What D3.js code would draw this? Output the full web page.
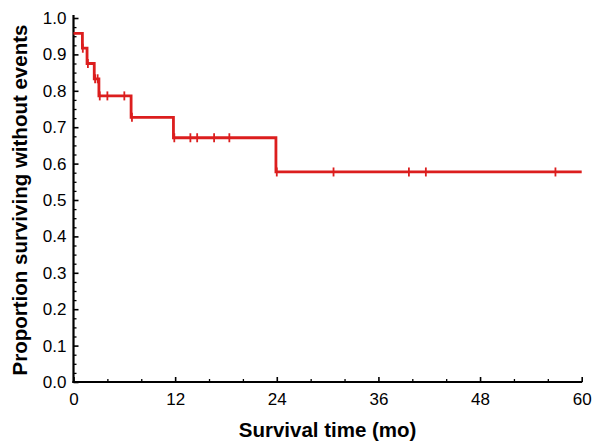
<!DOCTYPE html>
<html>
<head>
<meta charset="utf-8">
<script src="https://cdn.jsdelivr.net/npm/d3@7"></script>
<style>
  html, body { margin: 0; padding: 0; background: #fff; }
  svg { display: block; }
  text { font-family: "Liberation Sans", Arial, sans-serif; }
</style>
</head>
<body>
<script>
// Kaplan-Meier step data (time in months, survival proportion)
const stepTimes = [0, 1.05, 1.6, 2.45, 3.0, 6.8, 11.8, 23.9, 60];
const stepSurv  = [0.958, 0.917, 0.875, 0.833, 0.786, 0.727, 0.671, 0.577, 0.577];
// Censored observations (months)
const censorTimes = [1.1, 1.7, 2.55, 2.85, 3.1, 4.0, 6.0, 6.9, 11.9, 13.8, 14.6, 16.6, 18.4, 24.0, 30.7, 39.6, 41.6, 56.9];
// Axis ticks
const xTicks = [0, 12, 24, 36, 48, 60];
const yTicks = [0, 0.1, 0.2, 0.3, 0.4, 0.5, 0.6, 0.7, 0.8, 0.9, 1.0];
const xTitle = "Survival time (mo)";
const yTitle = "Proportion surviving without events";

const W = 602, H = 446;
const margin = { left: 73.5, right: W - 581.7, top: 18, bottom: H - 382 };
const color = "#dc1e1e";

const svg = d3.select("body").append("svg").attr("width", W).attr("height", H);
svg.append("rect").attr("width", W).attr("height", H).attr("fill", "#fff");

const x = d3.scaleLinear().domain([0, 60]).range([margin.left, W - margin.right]);
const y = d3.scaleLinear().domain([0, 1]).range([H - margin.bottom, margin.top]);

const survAt = t => {
  let s = stepSurv[0];
  for (let i = 0; i < stepTimes.length; i++) if (stepTimes[i] <= t) s = stepSurv[i];
  return s;
};

// Minor ticks
const xMinor = d3.range(0, 61, 4).filter(v => v % 12 !== 0);
const yMinor = d3.range(0, 41).map(i => i * 0.025).filter((v, i) => i % 4 !== 0);

svg.append("g").attr("transform", `translate(0,${y(0)})`)
  .call(d3.axisBottom(x).tickValues(xMinor).tickSize(-3).tickSizeOuter(0).tickFormat(""))
  .call(g => g.select(".domain").remove())
  .call(g => g.selectAll("line").attr("stroke", "#000").attr("stroke-width", 1.3));
svg.append("g").attr("transform", `translate(${x(0)},0)`)
  .call(d3.axisLeft(y).tickValues(yMinor).tickSize(-3).tickSizeOuter(0).tickFormat(""))
  .call(g => g.select(".domain").remove())
  .call(g => g.selectAll("line").attr("stroke", "#000").attr("stroke-width", 1.3));

// Major axes
const xAxis = svg.append("g").attr("transform", `translate(0,${y(0)})`)
  .call(d3.axisBottom(x).tickValues(xTicks).tickSize(-5).tickSizeOuter(0).tickPadding(11).tickFormat(d3.format("d")));
const yAxis = svg.append("g").attr("transform", `translate(${x(0)},0)`)
  .call(d3.axisLeft(y).tickValues(yTicks).tickSize(-5).tickSizeOuter(0).tickPadding(7).tickFormat(d3.format(".1f")));

[xAxis, yAxis].forEach(g => {
  g.select(".domain").attr("stroke", "#000").attr("stroke-width", 2.2);
  g.selectAll(".tick line").attr("stroke", "#000").attr("stroke-width", 1.6);
  g.selectAll(".tick text").attr("fill", "#000").style("font-size", "17px")
    .style("font-family", "'Liberation Sans', Arial, sans-serif");
});
// extend x domain to cover corner
xAxis.select(".domain").attr("d", `M${x(0) - 1.1},0H${x(60) + 0.5}`);
yAxis.select(".domain").attr("d", `M0,${y(1) - 3}V${y(0) + 1.1}`);

// KM curve
const line = d3.line().x(d => x(d[0])).y(d => y(d[1])).curve(d3.curveStepAfter);
svg.append("path")
  .datum(stepTimes.map((t, i) => [t, stepSurv[i]]))
  .attr("fill", "none").attr("stroke", color).attr("stroke-width", 2.8)
  .attr("d", line);

// Censor marks
svg.append("g").selectAll("line").data(censorTimes).join("line")
  .attr("x1", d => x(d)).attr("x2", d => x(d))
  .attr("y1", d => y(survAt(d)) - 4.5).attr("y2", d => y(survAt(d)) + 4.5)
  .attr("stroke", color).attr("stroke-width", 1.8);

// Titles
svg.append("text")
  .attr("x", (x(0) + x(60)) / 2).attr("y", 437)
  .attr("text-anchor", "middle").attr("font-weight", "bold").style("font-size", "20.5px")
  .text(xTitle);
svg.append("text")
  .attr("transform", `translate(27,${(y(0) + y(1)) / 2}) rotate(-90)`)
  .attr("text-anchor", "middle").attr("font-weight", "bold").style("font-size", "20.5px")
  .text(yTitle);
</script>
</body>
</html>
